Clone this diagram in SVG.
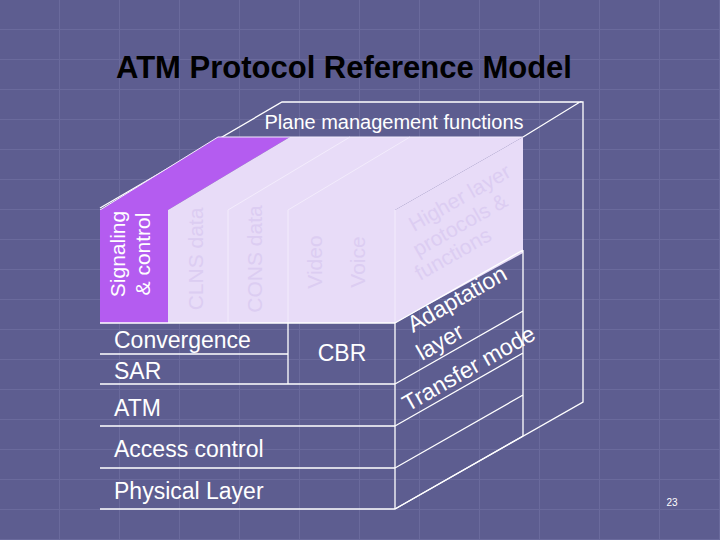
<svg xmlns="http://www.w3.org/2000/svg" width="720" height="540" viewBox="0 0 720 540">
<defs>
<style>
text{font-family:"Liberation Sans",Arial,sans-serif}
.w{fill:none;stroke:#fff;stroke-width:1.3}
.lbl{fill:#fff;font-size:23px}
.vt{fill:#fff;font-size:21px}
.ft{fill:#dccdf2;font-size:21px}
</style>
<pattern id="g" width="60" height="30" patternUnits="userSpaceOnUse">
<rect width="60" height="30" fill="#5d5d90"/>
<path d="M0 29.5H60M59.5 0V30" stroke="#6a6a9c" stroke-width="1"/>
</pattern>
</defs>
<rect width="720" height="540" fill="url(#g)"/>
<text x="344" y="78" text-anchor="middle" font-size="31" font-weight="bold" fill="#000">ATM Protocol Reference Model</text>
<g id="frame">
<polyline class="w" points="100,208 282,102 580,102 523,137"/>
<polyline class="w" points="580,102 583,102 583,402 395,509"/>
<text x="394" y="129" text-anchor="middle" fill="#fff" font-size="20">Plane management functions</text>
</g>
<g id="top">
<polygon points="100,210 168,210 290,137 218,137" fill="#b45cf0"/>
<polygon points="168,210 395,210 523,137 290,137" fill="#e8dcf8"/>
<polygon points="395,210 523,137 523,253 395,323" fill="#e8dcf8"/>
<path d="M228,210 350,137M288,210 410,137M100,210 218,137" stroke="#f3ecfc" stroke-width="1"/>
<line x1="218" y1="137" x2="523" y2="137" stroke="#f3ecfc"/>
</g>
<g id="columns">
<rect x="100" y="210" width="68" height="113" fill="#b45cf0"/>
<rect x="168" y="210" width="227" height="113" fill="#e8dcf8"/>
<path d="M228,210V323M288,210V323M395,210V323" stroke="#f3ecfc"/>
<text class="vt" transform="translate(125,254) rotate(-90)" text-anchor="middle">Signaling</text>
<text class="vt" transform="translate(150,254) rotate(-90)" text-anchor="middle">&amp; control</text>
<text class="ft" transform="translate(203,259) rotate(-90)" text-anchor="middle">CLNS data</text>
<text class="ft" transform="translate(262,259) rotate(-90)" text-anchor="middle">CONS data</text>
<text class="ft" transform="translate(322,262) rotate(-90)" text-anchor="middle">Video</text>
<text class="ft" transform="translate(365,262) rotate(-90)" text-anchor="middle">Voice</text>
<text class="ft" transform="translate(414,232) rotate(-29.7)">Higher layer</text>
<text class="ft" transform="translate(418,257) rotate(-29.7)">protocols &amp;</text>
<text class="ft" transform="translate(420,281) rotate(-29.7)">functions</text>
</g>
<g id="layers">
<path class="w" d="M100,323H395M100,354H288M288,323V384M100,384H395M100,426H395M100,468H395M100,509H395M395,323V509"/>
<path class="w" d="M395,323 523,250M395,384 523,311M395,426 523,353M395,468 523,395M395,509 523,436M523,250V436"/>
<text class="lbl" x="114" y="348">Convergence</text>
<text class="lbl" x="114" y="379">SAR</text>
<text class="lbl" x="342" y="361" text-anchor="middle">CBR</text>
<text class="lbl" x="114" y="416">ATM</text>
<text class="lbl" x="114" y="457">Access control</text>
<text class="lbl" x="114" y="499">Physical Layer</text>
<text class="lbl" transform="translate(413,333) rotate(-29.7)">Adaptation</text>
<text class="lbl" transform="translate(422,361) rotate(-29.7)">layer</text>
<text class="lbl" transform="translate(408,412) rotate(-29.7)">Transfer mode</text>
</g>
<text x="672" y="506" text-anchor="middle" font-size="10" fill="#fff">23</text>
</svg>
